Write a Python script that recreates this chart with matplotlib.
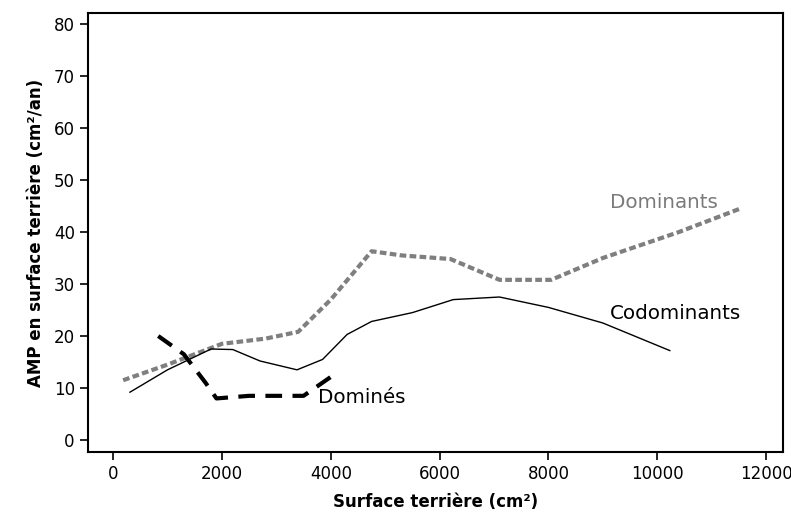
import matplotlib.pyplot as plt

# values
dom_x = [185, 1000, 2000, 2800, 3400, 4000, 4750, 5300, 6200, 7100, 8050, 9000, 10400, 11550]
dom_y = [11.5, 14.5, 18.5, 19.5, 20.8, 27.0, 36.3, 35.5, 34.8, 30.8, 30.8, 35.0, 40.0, 44.6]

codom_x = [310, 1000, 1800, 2200, 2700, 3380, 3850, 4300, 4750, 5500, 6250, 7100, 8000, 9000, 10230]
codom_y = [9.2, 13.5, 17.5, 17.4, 15.2, 13.5, 15.5, 20.3, 22.8, 24.5, 27.0, 27.5, 25.5, 22.5, 17.2]

domine_x = [830, 1300, 1700, 1900, 2500, 3500, 4120]
domine_y = [20.0, 16.5, 11.0, 8.0, 8.5, 8.5, 13.0]

xticks = [0, 2000, 4000, 6000, 8000, 10000, 12000]
yticks = [0, 10, 20, 30, 40, 50, 60, 70, 80]

fig = plt.figure(figsize=(7.91, 5.14), dpi=100)
ax = fig.add_axes([0.1113, 0.1206, 0.8786, 0.8541])

ax.plot(dom_x, dom_y, color='#7f7f7f', lw=3, dashes=(1.6, 0.8))
ax.plot(codom_x, codom_y, color='black', lw=1)
ax.plot(domine_x, domine_y, color='black', lw=3, dashes=(4, 2.5))

ax.text(9130, 45.7, 'Dominants', color='#7a7a7a', fontsize=14.3, va='center')
ax.text(9130, 24.4, 'Codominants', color='black', fontsize=14.3, va='center')
ax.text(3770, 8.1, 'Dominés', color='black', fontsize=14.3, va='center')

ax.set_xlim(-460, 12310)
ax.set_ylim(-2.3, 82.1)
ax.set_xticks(xticks)
ax.set_yticks(yticks)
ax.tick_params(direction='out', length=6, width=1.2, labelsize=12)
for s in ax.spines.values():
    s.set_linewidth(1.5)

ax.set_xlabel('Surface terrière (cm²)', fontsize=12, fontweight='bold', labelpad=7)
ax.set_ylabel('AMP en surface terrière (cm²/an)', fontsize=12, fontweight='bold', labelpad=6)

fig.savefig('out.png', dpi=100)
